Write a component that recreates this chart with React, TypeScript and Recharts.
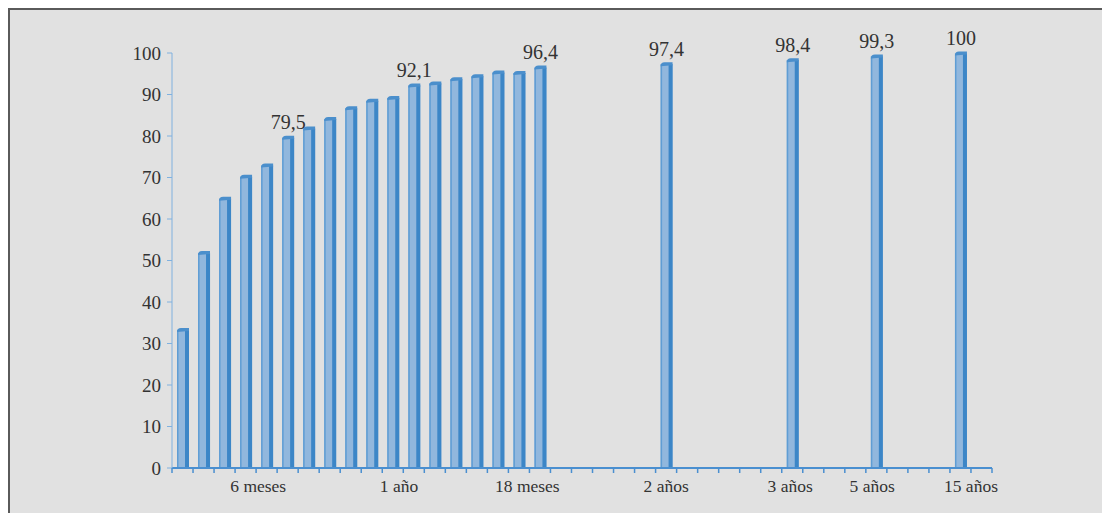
import React from "react";
import { BarChart, Bar, XAxis, YAxis, LabelList } from "recharts";

// Cumulative percentage per period slot (empty slots = null)
const periodValues: (number | null)[] = [
  33.4, 51.9, 65.0, 70.3, 73.0, 79.7, 81.9, 84.2, 86.8, 88.6, 89.3, 92.3, 92.8, 93.8, 94.5, 95.4, 95.3, 96.6,
  null, null, null, null, null, 97.4,
  null, null, null, null, null, 98.4,
  null, null, null, 99.3,
  null, null, null, 100,
  null,
];

const valueLabels: (string | null)[] = [
  null, null, null, null, null, "79,5", null, null, null, null, null, "92,1", null, null, null, null, null, "96,4",
  null, null, null, null, null, "97,4",
  null, null, null, null, null, "98,4",
  null, null, null, "99,3",
  null, null, null, "100",
  null,
];

// x-axis category labels, placed at slot positions
const xLabelPositions = [4.1, 10.8, 16.9, 23.5, 29.4, 33.3, 38];
const xLabelTexts = ["6 meses", "1 año", "18 meses", "2 años", "3 años", "5 años", "15 años"];

const yTicks = [0, 10, 20, 30, 40, 50, 60, 70, 80, 90, 100];

const slotCount = periodValues.length;
const data = periodValues.map((v, i) => ({ pos: i + 0.5, value: v, label: valueLabels[i] }));
const boundaryTicks = Array.from({ length: slotCount + 1 }, (_, i) => i);
const allXTicks = Array.from(new Set([...boundaryTicks, ...xLabelPositions])).sort((a, b) => a - b);

const FONT = "'Liberation Serif', 'DejaVu Serif', serif";

const XTick = (props: any) => {
  const { x, y, payload } = props;
  const v = payload.value;
  const idx = xLabelPositions.indexOf(v);
  return (
    <g>
      {Number.isInteger(v) && <line x1={x} x2={x} y1={y} y2={y + 5} stroke="#4a8fd0" strokeWidth={1.5} />}
      {idx >= 0 && (
        <text x={x} y={y + 24} textAnchor="middle" fontSize={17.5} fill="#333">
          {xLabelTexts[idx]}
        </text>
      )}
    </g>
  );
};

const Bar3D = (props: any) => {
  const { x, y, width, height } = props;
  if (!height || height <= 0 || !isFinite(y)) return null;
  const w = width;
  const t = y - 1.5;
  return (
    <g>
      <rect x={x} y={t + 2} width={w} height={height - 0.5} fill="#91b7dd" />
      <rect x={x} y={t + 2} width={1.5} height={height - 0.5} fill="#5f9dd4" />
      <rect x={x + w - 4} y={t + 2} width={4} height={height - 0.5} fill="#3c86c7" />
      <path
        d={`M ${x} ${t + 4} Q ${x} ${t} ${x + 4} ${t} L ${x + w} ${t} L ${x + w} ${t + 3} L ${x} ${t + 4} Z`}
        fill="#4b8fcc"
      />
    </g>
  );
};

export default function App() {
  return (
    <>
      <style>{`html,body{overflow:hidden;} svg text{font-family: 'Liberation Serif', 'DejaVu Serif', serif;}`}</style>
      <div
        style={{
          width: 1200,
          height: 520,
          background: "#e1e1e1",
          borderLeft: "2px solid #5a5a5a",
          borderTop: "2px solid #5a5a5a",
          fontFamily: FONT,
        }}
      >
        <BarChart
          width={1100}
          height={503}
          data={data}
          margin={{ top: 43, right: 118, left: 102, bottom: 14 }}
        >
          <XAxis
            type="number"
            dataKey="pos"
            domain={[0, slotCount]}
            ticks={allXTicks}
            interval={0}
            tickLine={false}
            tickSize={0}
            tickMargin={0}
            height={31}
            axisLine={{ stroke: "#4a8fd0", strokeWidth: 2 }}
            tick={<XTick />}
          />
          <YAxis
            type="number"
            domain={[0, 100]}
            ticks={yTicks}
            interval={0}
            width={60}
            tickSize={5}
            tickMargin={6}
            axisLine={{ stroke: "#80b1df", strokeWidth: 1 }}
            tickLine={{ stroke: "#80b1df" }}
            tick={{ fontSize: 19, fill: "#333" }}
          />
          <Bar dataKey="value" barSize={12} isAnimationActive={false} shape={<Bar3D />}>
            <LabelList dataKey="label" position="top" offset={8} fontSize={20} fill="#333" />
          </Bar>
        </BarChart>
      </div>
    </>
  );
}
